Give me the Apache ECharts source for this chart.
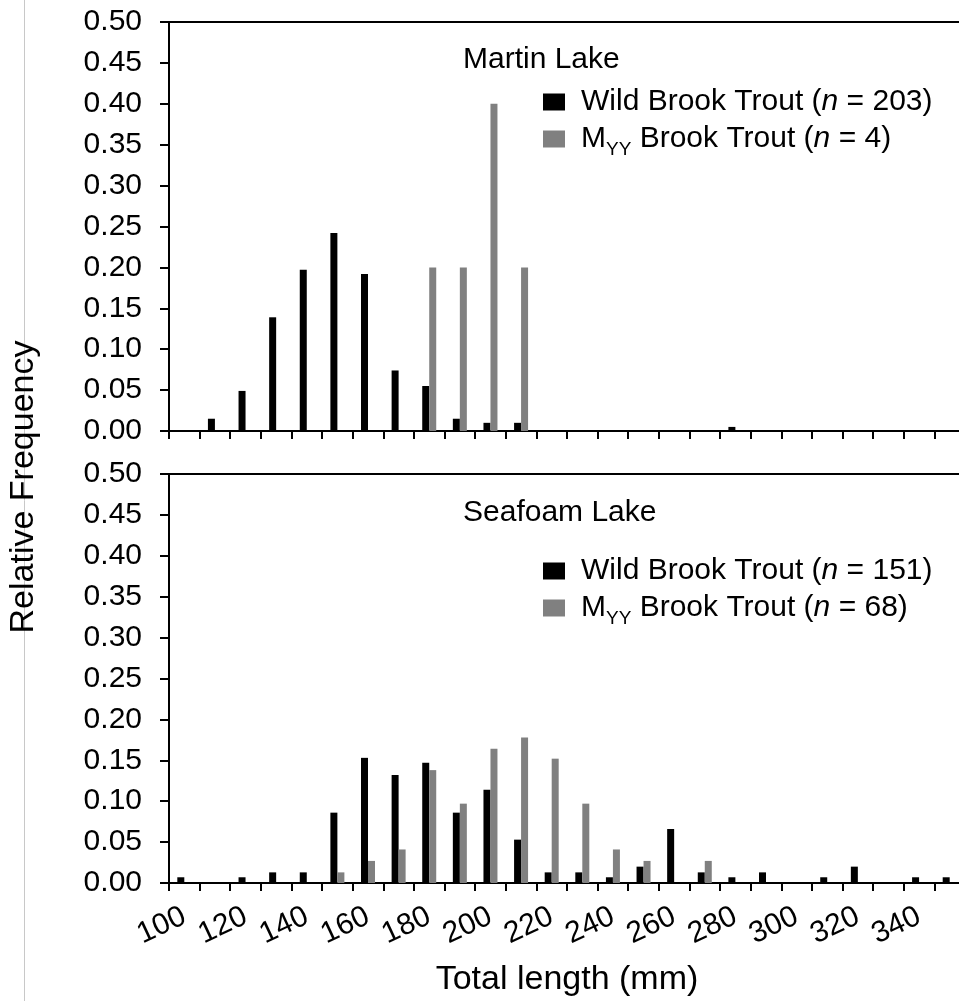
<!DOCTYPE html>
<html>
<head>
<meta charset="utf-8">
<script src="https://cdn.jsdelivr.net/npm/echarts@6/dist/echarts.min.js"></script>
<style>
html, body { margin: 0; padding: 0; background: #fff; }
#chart { width: 959px; height: 1001px; }
</style>
</head>
<body>
<div id="chart"></div>
<script>
// total length bins (mm)
const lengths = ['100', '110', '120', '130', '140', '150', '160', '170', '180', '190', '200', '210', '220',
  '230', '240', '250', '260', '270', '280', '290', '300', '310', '320', '330', '340', '350'];

// Martin Lake
const martinWild = [0, 0.015, 0.049, 0.139, 0.197, 0.242, 0.192, 0.074, 0.055, 0.015, 0.010, 0.010, 0,
  0, 0, 0, 0, 0, 0.005, 0, 0, 0, 0, 0, 0, 0];
const martinMyy = [0, 0, 0, 0, 0, 0, 0, 0, 0.2, 0.2, 0.4, 0.2, 0,
  0, 0, 0, 0, 0, 0, 0, 0, 0, 0, 0, 0, 0];

// Seafoam Lake
const seafoamWild = [0.007, 0, 0.007, 0.013, 0.013, 0.086, 0.153, 0.132, 0.147, 0.086, 0.114, 0.053, 0.013,
  0.013, 0.007, 0.020, 0.066, 0.013, 0.007, 0.013, 0, 0.007, 0.020, 0, 0.007, 0.007];
const seafoamMyy = [0, 0, 0, 0, 0, 0.013, 0.027, 0.041, 0.138, 0.097, 0.164, 0.178, 0.152,
  0.097, 0.041, 0.027, 0, 0.027, 0, 0, 0, 0, 0, 0, 0, 0];

const FONT = '"Liberation Sans", Arial, sans-serif';
const WILD = 'Wild Brook Trout';
const MYY = 'MYY Brook Trout';

const chart = echarts.init(document.getElementById('chart'));

// subscript YY sits lower: taller line for main text, short box aligned to bottom for sub
const rich = {
  p: { width: 11, lineHeight: 40 },
  t: { fontSize: 30, lineHeight: 40, color: '#000', fontFamily: FONT },
  i: { fontSize: 30, lineHeight: 40, color: '#000', fontFamily: FONT, fontStyle: 'italic' },
  s: { fontSize: 19, lineHeight: 19, color: '#000', fontFamily: FONT, verticalAlign: 'bottom' }
};

const makeLegend = (top, nWild, nMyy) => ({
  left: 543,
  top: top,
  padding: 0,
  orient: 'vertical',
  icon: 'rect',
  itemWidth: 22,
  itemHeight: 17,
  itemGap: 7,
  selectedMode: false,
  data: [WILD, MYY],
  formatter: name => name === WILD
    ? `{p|}{t|Wild Brook Trout (}{i|n}{t| = ${nWild})}`
    : `{p|}{t|M}{s|YY}{t| Brook Trout (}{i|n}{t| = ${nMyy})}`,
  textStyle: { rich: rich }
});

const makeX = (idx, showLabels) => ({
  gridIndex: idx,
  type: 'category',
  data: lengths,
  axisLine: { show: true, lineStyle: { color: '#000', width: 2 } },
  axisTick: { show: true, interval: 0, length: 8, lineStyle: { color: '#000', width: 2 } },
  axisLabel: {
    show: showLabels,
    interval: 1,
    rotate: 25,
    margin: 32,
    fontSize: 30,
    color: '#000',
    fontFamily: FONT
  },
  name: showLabels ? 'Total length (mm)' : '',
  nameLocation: 'middle',
  nameGap: 80,
  nameTextStyle: { fontSize: 34, color: '#000', fontFamily: FONT }
});

const makeY = idx => ({
  gridIndex: idx,
  type: 'value',
  min: 0,
  max: 0.5,
  interval: 0.05,
  axisLine: { show: true, lineStyle: { color: '#000', width: 2 } },
  axisTick: { show: true, length: 9, lineStyle: { color: '#000', width: 2 } },
  splitLine: { show: false },
  axisLabel: {
    margin: 27,
    fontSize: 30,
    color: '#000',
    fontFamily: FONT,
    formatter: v => v.toFixed(2)
  }
});

const barSeries = (name, axis, data, color) => ({
  name: name,
  type: 'bar',
  xAxisIndex: axis,
  yAxisIndex: axis,
  data: data,
  barWidth: 7,
  barGap: '0%',
  itemStyle: { color: color }
});

chart.setOption({
  animation: false,
  backgroundColor: '#fff',
  title: [
    { text: 'Martin Lake', left: 463, top: 45, padding: 0,
      textStyle: { fontSize: 30, fontWeight: 'normal', color: '#000', fontFamily: FONT } },
    { text: 'Seafoam Lake', left: 463, top: 498, padding: 0,
      textStyle: { fontSize: 30, fontWeight: 'normal', color: '#000', fontFamily: FONT } }
  ],
  legend: [makeLegend(87, 203, 4), makeLegend(556, 151, 68)],
  grid: [
    { left: 169, top: 22, width: 796, height: 409, outerBoundsMode: 'none',
      show: true, borderColor: '#000', borderWidth: 2 },
    { left: 169, top: 474, width: 796, height: 409, outerBoundsMode: 'none',
      show: true, borderColor: '#000', borderWidth: 2 }
  ],
  xAxis: [makeX(0, false), makeX(1, true)],
  yAxis: [makeY(0), makeY(1)],
  series: [
    barSeries(WILD, 0, martinWild, '#000'),
    barSeries(MYY, 0, martinMyy, '#808080'),
    barSeries(WILD, 1, seafoamWild, '#000'),
    barSeries(MYY, 1, seafoamMyy, '#808080')
  ],
  graphic: [
    { type: 'line', shape: { x1: 24.5, y1: 0, x2: 24.5, y2: 1001 },
      style: { stroke: '#c8c8c8', lineWidth: 1 }, z: 0 },
    { type: 'text', x: 24, y: 487, rotation: Math.PI / 2,
      style: { text: 'Relative Frequency', fontSize: 34, fill: '#000', fontFamily: FONT,
        align: 'center', verticalAlign: 'middle' }, z: 10 }
  ]
});
</script>
</body>
</html>
